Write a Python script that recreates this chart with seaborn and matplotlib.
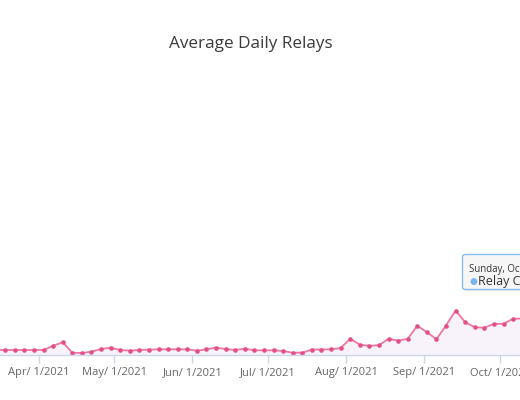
import numpy as np
import pandas as pd
import matplotlib
matplotlib.use("Agg")
import matplotlib.pyplot as plt
import matplotlib.dates as mdates
from matplotlib.patches import FancyBboxPatch
import seaborn as sns

# one sample every ~3.8 days, from mid March to Sunday Oct 10 2021 (hovered point)
FIRST_DAY = "2021-03-15"
LAST_DAY = "2021-10-10"

# average daily relays, in millions (no y axis shown)
relays_m = [
    0.50, 0.50, 0.50, 0.50, 0.50, 0.50, 0.93, 1.27, 0.23, 0.20,
    0.33, 0.60, 0.73, 0.50, 0.43, 0.50, 0.53, 0.57, 0.57, 0.57,
    0.57, 0.43, 0.57, 0.73, 0.60, 0.50, 0.63, 0.47, 0.47, 0.47,
    0.40, 0.23, 0.23, 0.55, 0.55, 0.57, 0.70, 1.63, 1.03, 0.92,
    0.98, 1.62, 1.44, 1.62, 2.93, 2.28, 1.58, 2.95, 4.45, 3.28,
    2.78, 2.73, 3.12, 3.12, 3.62, 3.65,
]
month_ticks = ["2021-04-01", "2021-05-01", "2021-06-01", "2021-07-01",
               "2021-08-01", "2021-09-01", "2021-10-01"]

TITLE = "Average Daily Relays"
TOOLTIP_DATE = "Sunday, Oct 10, 2021"
TOOLTIP_LABEL = "Relay Count: 3,650,000"

LINE_COLOR = "#ef77a1"
MARKER_COLOR = "#e2508a"
FILL_COLOR = "#f8f3fb"
AXIS_COLOR = "#ccd6eb"

df = pd.DataFrame({
    "date": pd.date_range(FIRST_DAY, LAST_DAY, periods=len(relays_m)),
    "relays": relays_m,
})

sns.set_style("white")
plt.rcParams["font.family"] = ["Open Sans", "DejaVu Sans"]

W, H = 520, 400
fig = plt.figure(figsize=(W / 100, H / 100), dpi=100)
ax = fig.add_axes([0, 45 / H, 1, 285 / H])

ax.fill_between(df["date"], df["relays"], 0, color=FILL_COLOR, lw=0)
sns.lineplot(data=df, x="date", y="relays", ax=ax, color=LINE_COLOR,
             linewidth=1.3, marker="o", markersize=3.3,
             markerfacecolor=MARKER_COLOR, markeredgewidth=0, legend=False)

# visible window: the chart is cut off on both sides
apr1 = mdates.date2num(pd.Timestamp("2021-04-01"))
ax.set_xlim(apr1 - 15.27, apr1 + 190.93)
ax.set_ylim(0, 28.5)

ax.set_xticks(mdates.date2num(pd.to_datetime(month_ticks)))
ax.xaxis.set_major_formatter(plt.FuncFormatter(
    lambda v, pos: (lambda d: f"{d:%b}/{d.day:2d}/{d.year}")(mdates.num2date(v))))
ax.tick_params(axis="x", length=6, width=1, color=AXIS_COLOR, colors="#666666",
               labelsize=8, pad=3, bottom=True)
ax.tick_params(axis="x", color=AXIS_COLOR)
ax.set_yticks([])
ax.set_xlabel("")
ax.set_ylabel("")
for side in ["top", "left", "right"]:
    ax.spines[side].set_visible(False)
ax.spines["bottom"].set_color(AXIS_COLOR)
ax.spines["bottom"].set_linewidth(1)

fig.text(251 / W, 1 - 44 / H, TITLE, ha="center", va="center",
         fontsize=12.3, color="#3a3a3a")

# tooltip, cut off at the right edge
def px(x, y):
    return x / W, 1 - y / H

shadow = FancyBboxPatch(px(464, 291), 140 / W, 35 / H,
                        boxstyle="round,pad=0,rounding_size=0.006",
                        transform=fig.transFigure, facecolor="#000000",
                        alpha=0.06, edgecolor="none")
box = FancyBboxPatch(px(462.5, 289.5), 140 / W, 35 / H,
                     boxstyle="round,pad=0,rounding_size=0.006",
                     transform=fig.transFigure, facecolor="#f7f7f7",
                     alpha=0.9, edgecolor="#7cb5ec", linewidth=1)
fig.patches.extend([shadow, box])
fig.text(*px(469, 269.5), TOOLTIP_DATE, ha="left", va="center",
         fontsize=6.9, color="#333333")
fig.text(*px(469.5, 281.5), "\u25cf", ha="left", va="center",
         fontsize=6.5, color="#7cb5ec")
fig.text(*px(477.5, 281), TOOLTIP_LABEL, ha="left", va="center",
         fontsize=9, color="#333333")

fig.savefig("out.png", dpi=100)
